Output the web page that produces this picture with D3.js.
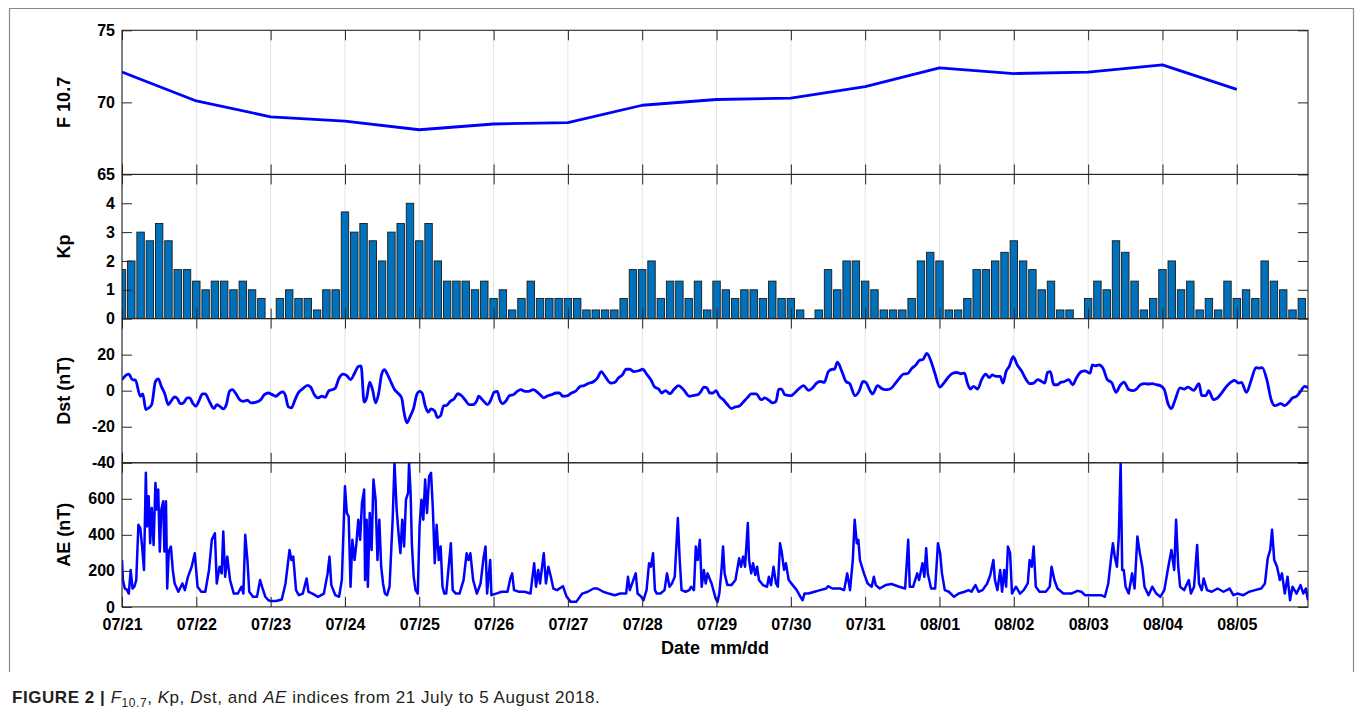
<!DOCTYPE html>
<html>
<head>
<meta charset="utf-8">
<script src="https://cdn.jsdelivr.net/npm/d3@7/dist/d3.min.js"></script>
<style>
  html, body { margin: 0; padding: 0; background: #fff; }
  svg { display: block; }
  text { font-family: "Liberation Sans", Arial, Helvetica, sans-serif; }
</style>
</head>
<body>
<svg id="chart" width="1355" height="716"></svg>
<script>
// ---------------- DATA ----------------
const dayLabels = ["07/21","07/22","07/23","07/24","07/25","07/26","07/27","07/28",
                   "07/29","07/30","07/31","08/01","08/02","08/03","08/04","08/05"];

// daily F10.7 (one value per day, at 00 UT)
const f107Values = [72.1, 70.1, 69.0, 68.7, 68.1, 68.5, 68.6, 69.8,
                    70.2, 70.3, 71.1, 72.4, 72.0, 72.1, 72.6, 70.9];

// 3-hourly Kp (8 per day, starting 07/21 00 UT)
const kpValues = [
  1.7,2,3,2.7,3.3,2.7,1.7,1.7,   1.3,1,1.3,1.3,1,1.3,1,0.7,
  0,0.7,1,0.7,0.7,0.3,1,1,       3.7,3,3.3,2.7,2,3,3.3,4,
  2.7,3.3,2,1.3,1.3,1.3,1,1.3,   0.7,1,0.3,0.7,1.3,0.7,0.7,0.7,
  0.7,0.7,0.3,0.3,0.3,0.3,0.7,1.7, 1.7,2,0.7,1.3,1.3,0.7,1.3,0.3,
  1.3,1,0.7,1,1,0.7,1.3,0.7,     0.7,0.3,0,0.3,1.7,1,2,2,
  1.3,1,0.3,0.3,0.3,0.7,2,2.3,   2,0.3,0.3,0.7,1.7,1.7,2,2.3,
  2.7,2,1.7,1,1.3,0.3,0.3,0,     0.7,1.3,1,2.7,2.3,1.3,0.3,0.7,
  1.7,2,1,1.3,0.3,0.7,0.3,1.3,   0.7,1,0.7,2,1.3,1,0.3,0.7
];

// Dst: hours since 07/21 00 UT and values (nT)
const dstHours = [0,1.5,2.2,3.4,4.3,5.9,6.7,7.7,8.7,9.6,10.8,11.7,12.7,13.9,14.9,15.8,17,17.9,18.8,19.8,
  21.1,21.9,22.8,23.8,24.8,26,26.9,28.1,29.7,30.6,31.5,32.7,33.7,34.7,35.6,36.8,38,39.2,40.5,41.7,
  43.3,44.8,46,47.3,48.5,49.7,51,52,52.8,53.7,54.7,55.9,56.9,58.4,59.9,60.9,62.1,63.3,64.6,65.6,
  66.8,68,68.9,70.1,71.4,72.6,73.8,75.1,76.3,77.2,78.2,79,80,80.9,81.9,82.9,83.8,84.7,85.8,87,
  88,89.3,90.3,91.1,92,93,94.2,95.2,96.1,96.9,97.9,98.9,99.8,101,101.9,102.9,103.9,104.7,106,107.2,
  108.4,109.7,110.9,112.1,113.4,114.6,115.2,116.5,118,118.9,120.2,121.2,122,122.9,123.9,125.1,126.4,127.6,128.8,130.1,
  131.3,132.8,134,135,136.2,137.5,138.7,140.2,141.2,142.4,143.9,145.1,146.4,148,149.2,150.4,152.3,153.5,154.8,156,
  157.9,159.1,160.3,161.6,162.8,164,165.3,167.1,168.1,169.6,170.8,172,173.3,174.3,175.5,177,178.2,179.7,181.3,183.2,
  184.7,186,187,187.9,188.9,189.8,190.8,191.8,192.9,194.2,195.5,196.8,198.1,199.3,200.6,201.9,203.2,204.8,206.4,207.6,
  208.9,210.2,211.2,212.1,213,214,216,217.2,218.5,220.1,221.7,223,224.3,225.5,226.8,228.1,229.4,230.1,231,232.5,
  233.8,235,236.7,238,239.3,240.2,241.5,242.4,244,245.7,247.2,248.5,249.8,251.1,252.3,253.6,255.1,256.4,257.4,258.7,
  259.9,261.3,262.5,264.1,265.4,266.6,268.3,269.6,270.8,272.1,273,274,275,276.3,277.6,278.9,280.1,281,282.3,283.6,
  284.5,285.5,286.5,287.8,289.1,290.6,291.9,293.2,294.4,295.7,297,298,298.9,299.8,300.9,302.1,303.1,304.4,305.7,307,
  308.2,309.8,311,312.6,313.4,314.3,315.5,316.8,318.1,319.7,321,322.3,323.6,325.1,326.4,327.6,328.9,330.2,331.5,332.7,
  334,335.3,336.6,337.8,338.9,340.1,341.7,343,344.2,346.1,347.8,348.7,350,350.9,352.5,353.8,355.1,356.7,358,359.3,
  360.6,361.5,363.1,364.7,366.2,367.2,368.2,369.7,371.1,372.3,374.2,375.5,376.8,378,379.3,380.6,381.9,383];
const dstValues = [6.1,8.8,9.2,6,6,-3.1,-1.8,-10.5,-9.5,-7.7,5.1,6.6,2.4,-2.2,-7.7,-5.9,-3.5,-4.4,-7.2,-6.8,
  -4,-4,-6.8,-8.6,-5.9,-1.8,-1.8,-5.5,-9.9,-7.7,-8.6,-10.1,-7.7,-0.4,0.6,-1.7,-5,-5.9,-5.3,-6.8,
  -6.4,-5,-2.2,-1.3,-2.2,-3.1,-1.3,-0.7,-2.8,-9,-9.5,-5,-1.3,1.1,2.9,2,-2.2,-4,-3.1,-3.7,
  0,0.6,1.5,7,9.2,8.3,6.1,9.7,13.4,13.8,-6.4,-4,4.8,0.6,-6.8,-1.3,8.8,11.6,8.8,4.2,
  0.6,-1.7,-4,-12.3,-17.8,-14.5,-9.5,-2.2,-0.4,-1.3,-8.3,-11.9,-10.1,-11.4,-15,-13.8,-8.3,-8.3,-5.9,-4.6,
  -1.7,-2.8,-5.3,-7.7,-7.7,-5.5,-3.1,-5.3,-7.7,-5.9,-0.9,-0.4,-5,-7.2,-5.9,-2.8,-2.2,-0.4,0.6,-0.4,
  -0.4,0.6,-0.7,-2.2,-4,-2.8,-2.2,-1.3,-1.3,-3.1,-2.8,-1.3,-0.4,2.4,2.8,3.9,5.1,7,10.6,7.9,
  4.2,4.6,7,8.8,11.9,11.9,10.6,11.2,11.9,8.8,6.1,2,0.9,-1.3,0,-1.7,0.6,2.8,0.6,-3.1,
  -2.6,-2.2,-0.4,2,1.5,-1.3,-1.3,0,-3.1,-5,-7.7,-9.9,-9,-8.6,-6.4,-4,-1.8,-1.8,-5,-4,
  -5.3,-6.8,-5.9,0.9,0.9,-2.2,-2.8,-1.3,0.9,2.8,0.2,1.5,4.2,5.1,4.6,10.6,11.9,11.9,15.8,10.6,
  5.1,3.9,-2.8,-0.4,5.1,4.6,0.2,-1.8,2.8,0.9,0.6,1.5,4.2,7,9.2,9.4,12.5,14.3,16.7,17.4,
  20.7,16.1,9.7,2,4.2,7,9.7,10.1,9.4,9.7,4.2,0.9,2.4,0.9,6.1,9.2,7.3,8.8,7.9,7.9,
  4.2,10.6,13.4,18.9,14.3,10.6,6.4,3.9,4.2,6.1,5.1,4.2,10.1,10.6,3.3,3.3,4.6,5.1,6.1,3.3,
  7,10.6,11,9.7,14.3,13.8,14.3,12.5,6.4,4.2,-0.9,2.8,4.8,0.6,0,0.9,3.3,3.9,3.7,3.9,
  3.3,2.8,0.6,-7.2,-9.9,-5,1.5,0.9,2,0.2,3.9,-2.8,-2.8,0,-5,-4,-1.3,2.4,4.6,5.7,
  4.2,4.6,-0.9,6.1,12.8,12.5,12.8,6.1,-5,-8.3,-7.2,-8.3,-6.4,-4,-3.1,-0.4,2.4,1.5];

// AE: hours since 07/21 00 UT and values (nT)
const aeHours = [0,0.3,0.9,1.5,2.2,2.8,3.4,4,4.6,5.3,5.9,6.5,7.1,7.7,8.1,8.6,9.1,9.6,10.2,10.8,
  11.2,11.7,12.2,12.7,13.3,13.7,14.2,14.6,15.1,15.8,16.4,17,18.2,19.5,20.3,21.3,22.5,23.5,24.4,25.6,
  26.9,28.1,29,30,30.6,31.5,32.2,32.7,33.3,34,34.9,36.1,37.4,38.6,39.2,39.8,40.5,41.1,42.3,43.6,
  44.6,45.4,46.3,47.3,47.9,49.7,51.6,52.8,54.1,54.7,55.3,56.2,57.1,58.4,59.6,60.2,61.5,63.3,65.2,66.4,
  67,67.6,68.9,70.1,71,72,72.6,73.2,73.8,74.4,75.1,75.7,76.3,76.9,77.5,78.2,78.5,79,79.4,80,
  80.6,81.2,81.9,82.5,83.1,83.7,84.3,84.9,85.6,86.4,87.4,88,88.7,89.3,89.9,90.5,91.1,91.7,92.4,92.7,
  93.2,93.6,94.2,94.8,95.5,96.1,96.7,97.3,97.9,98.5,99.2,99.8,100.4,101,101.6,102.3,102.9,103.5,104.1,104.7,
  105.3,106.2,106.8,107.8,109,110.3,111.3,111.9,112.5,113.4,114.6,115.8,116.8,117.4,117.9,118.9,119.3,120.8,122.6,124.5,
  125.4,126,126.6,128.2,130,131.9,133.1,133.7,134.4,135,136.2,136.9,137.7,138.5,139.3,140.5,142.4,143.6,144.9,146.7,
  148.6,150.4,152.3,153.5,155.4,157.2,159.1,160.9,162.8,163.4,164,165.3,165.9,166.5,167.7,168.4,169.4,170.2,170.8,171.5,
  172.1,172.7,173.9,175.2,176,176.8,177.6,178.5,179.5,180.1,180.7,182,183.2,183.8,184.7,185.3,185.9,186.6,187.2,187.9,
  188.5,189.1,190.4,191.7,192.3,192.9,193.6,194.1,194.6,195.5,196.8,198.1,199.3,199.9,200.6,201.2,202.1,202.5,203.2,203.8,
  204.5,205.1,205.7,207,208.3,208.9,209.6,210.4,211.2,211.8,212.5,213.1,213.8,214.4,215.3,216.6,217.9,219.1,219.8,220.4,
  221.7,223.6,225.5,227.4,228,229.4,231.9,233.2,234.2,235.1,236,236.6,237.3,237.8,238.3,239.6,240.8,242.1,242.8,243.4,
  244.7,246.6,248.5,251,252.9,253.9,254.4,255.5,256.8,257.4,258.5,259.1,259.7,260.2,261.3,262.6,263.5,264.2,264.8,265.7,
  267,268.7,270.2,272.1,273.4,274.3,275.6,276.6,277.9,279.4,280.4,281.4,281.9,282.7,283.6,284.2,284.9,285.5,286.1,286.8,
  287.4,288.7,290,291.2,292.5,293.1,293.8,294.4,295.1,296.3,298.3,299.6,300.2,301.1,302.1,304,306.6,308.5,309.8,311,
  313.6,316.2,317.4,318.5,319.4,320,320.6,321.3,321.9,322.5,323,323.5,324.1,325.1,326.2,327,327.9,328.7,329.5,330.2,
  331.5,332.7,334,335.3,336.6,337.9,338.9,339.8,340.4,341.1,341.7,343,344.5,345.2,346.2,347.2,347.8,348.7,349.3,350.4,
  351.9,353.8,355.7,357.7,358.9,360.2,362.1,364,365.9,367.9,369.1,370,370.8,371.4,372.1,373,373.9,374.6,375.5,376.4,
  377.2,378,379.3,380.6,381.5,382.3,383];
const aeValues = [260,149,102,97,74,205,102,112,149,456,437,335,205,744,447,614,353,549,344,688,
  540,651,307,540,586,307,586,102,307,335,205,130,84,130,93,167,223,298,112,84,
  84,205,372,409,130,223,186,419,167,279,149,74,74,112,74,400,260,84,56,56,
  149,102,56,37,33,33,41,130,316,260,279,93,65,74,158,84,74,56,74,186,
  279,121,65,56,149,670,521,502,112,372,260,353,484,372,577,651,149,484,112,521,
  316,707,595,260,484,223,130,74,65,112,484,800,540,409,298,484,335,595,633,800,
  633,353,167,93,74,447,595,484,707,521,726,744,540,242,456,260,335,112,74,74,
  186,353,93,74,74,149,298,260,298,149,74,130,279,335,74,260,65,74,84,84,
  158,186,93,84,84,74,242,112,205,130,298,130,223,167,102,93,115,56,28,28,
  74,84,102,102,84,74,65,74,74,167,93,158,186,74,56,37,93,242,223,298,
  93,74,74,93,186,112,130,167,493,260,93,84,93,112,93,335,260,372,112,205,
  130,186,130,47,28,74,205,335,186,121,121,149,270,223,279,223,465,260,186,242,
  177,223,149,121,112,167,121,223,130,112,353,298,205,242,149,121,93,56,37,74,
  74,84,93,102,115,102,102,93,186,93,260,484,353,372,260,186,130,112,167,121,
  102,121,127,112,102,372,112,112,186,149,242,167,326,186,102,102,353,298,186,93,
  84,56,74,84,93,84,121,84,93,130,177,260,149,93,205,84,205,112,335,298,
  74,112,74,93,130,260,223,335,112,84,84,112,223,149,102,74,74,89,84,65,
  65,65,56,130,270,353,279,223,391,800,205,205,112,74,186,102,391,298,223,112,
  65,112,74,56,93,223,316,205,484,223,112,93,149,74,112,344,130,93,158,93,
  84,102,84,102,65,74,65,84,93,102,130,270,316,428,260,223,149,186,74,167,
  37,112,74,121,74,102,37];

// axis ticks
const f107Ticks = [65, 70, 75];
const kpTicks = [0, 1, 2, 3, 4];
const dstTicks = [-40, -20, 0, 20];
const aeTicks = [0, 200, 400, 600];

// ---------------- DRAWING ----------------
const svg = d3.select("#chart");
const HOUR = 3600e3;
const START = Date.UTC(2018, 6, 21);
const toDate = h => new Date(START + h * HOUR);

const left = 122, right = 1308, top0 = 30.3, ph = 144.15;
const x = d3.scaleUtc().domain([toDate(0), toDate(383)]).range([left, right]);
const dayTicks = dayLabels.map((d, i) => toDate(i * 24));

const axisColor = "#262626";
const blue = "#0000ff";

// outer figure frame
svg.append("path")
  .attr("d", "M9.5,672V8.5H1353.5V672")
  .attr("fill", "none").attr("stroke", "#8a8a8a").attr("stroke-width", 1.2);

const panels = [
  { label: "F 10.7",   domain: [65, 75],   ticks: f107Ticks },
  { label: "Kp",       domain: [0, 5],     ticks: kpTicks },
  { label: "Dst (nT)", domain: [-40, 40],  ticks: dstTicks },
  { label: "AE (nT)",  domain: [0, 800],   ticks: aeTicks }
];

panels.forEach((p, idx) => {
  const y0 = top0 + idx * ph, y1 = y0 + ph;
  const y = d3.scaleLinear().domain(p.domain).range([y1, y0]);
  const g = svg.append("g");

  const cid = "clip" + idx;
  svg.append("clipPath").attr("id", cid)
    .append("rect").attr("x", left).attr("y", y0).attr("width", right - left).attr("height", ph);

  // vertical grid
  g.append("g").selectAll("line").data(dayTicks).join("line")
    .attr("x1", d => x(d)).attr("x2", d => x(d)).attr("y1", y0).attr("y2", y1)
    .attr("stroke", "#e3e3e3").attr("stroke-width", 1);

  const dg = g.append("g").attr("clip-path", `url(#${cid})`);

  if (idx === 0) {
    const line = d3.line().x((d, i) => x(toDate(i * 24))).y(d => y(d));
    dg.append("path").datum(f107Values).attr("d", line)
      .attr("fill", "none").attr("stroke", blue).attr("stroke-width", 2.8)
      .attr("stroke-linejoin", "round");
  } else if (idx === 1) {
    const bw = (x(toDate(3)) - x(toDate(0))) * 0.8;
    dg.selectAll("rect").data(kpValues).join("rect")
      .attr("x", (d, i) => x(toDate(i * 3)) - bw / 2)
      .attr("width", bw)
      .attr("y", d => y(d))
      .attr("height", d => y(0) - y(d))
      .attr("fill", "#0072bd").attr("stroke", "#1a1a1a").attr("stroke-width", 0.9);
  } else if (idx === 2) {
    const line = d3.line().x((d, i) => x(toDate(dstHours[i]))).y(d => y(d)).curve(d3.curveMonotoneX);
    dg.append("path").datum(dstValues).attr("d", line)
      .attr("fill", "none").attr("stroke", blue).attr("stroke-width", 2.8)
      .attr("stroke-linejoin", "round");
  } else {
    const line = d3.line().x((d, i) => x(toDate(aeHours[i]))).y(d => y(d));
    dg.append("path").datum(aeValues).attr("d", line)
      .attr("fill", "none").attr("stroke", blue).attr("stroke-width", 2.5)
      .attr("stroke-linejoin", "round");
  }

  const fmt = d => String(d);
  const yl = g.append("g").attr("transform", `translate(${left},0)`)
    .call(d3.axisLeft(y).tickValues(p.ticks).tickSize(-10).tickPadding(7).tickFormat(fmt));
  const yr = g.append("g").attr("transform", `translate(${right},0)`)
    .call(d3.axisRight(y).tickValues(p.ticks).tickSize(-10).tickFormat(""));
  const xt = g.append("g").attr("transform", `translate(0,${y0})`)
    .call(d3.axisTop(x).tickValues(dayTicks).tickSize(-10).tickFormat(""));
  const xb = g.append("g").attr("transform", `translate(0,${y1})`)
    .call(d3.axisBottom(x).tickValues(dayTicks).tickSize(-10).tickPadding(12)
      .tickFormat((d, i) => idx === 3 ? dayLabels[i] : ""));

  [yl, yr, xt, xb].forEach(a => {
    a.select(".domain").remove();
    a.selectAll(".tick line").attr("stroke", axisColor).attr("stroke-width", 1);
    a.selectAll(".tick text").attr("fill", "#000")
      .style("font-family", '"Liberation Sans", Arial, sans-serif')
      .style("font-weight", "bold").style("font-size", "16px");
  });

  // box
  g.append("rect").attr("x", left).attr("y", y0).attr("width", right - left).attr("height", ph)
    .attr("fill", "none").attr("stroke", axisColor).attr("stroke-width", 1.1);

  // y label
  g.append("text")
    .attr("transform", `translate(70,${(y0 + y1) / 2}) rotate(-90)`)
    .attr("text-anchor", "middle")
    .style("font-weight", "bold").style("font-size", "18px").attr("fill", "#000")
    .text(p.label);
});

// x-axis title
svg.append("text").attr("x", (left + right) / 2).attr("y", 654)
  .attr("text-anchor", "middle").style("font-weight", "bold").style("font-size", "18px")
  .attr("fill", "#000").attr("xml:space", "preserve").text("Date  mm/dd");

// caption
const cap = svg.append("text").attr("x", 12).attr("y", 703)
  .style("font-size", "17px").style("letter-spacing", "0.55px").attr("fill", "#231f20");
cap.append("tspan").style("font-weight", "bold").text("FIGURE 2 | ");
cap.append("tspan").style("font-style", "italic").text("F");
cap.append("tspan").attr("dy", 4).style("font-size", "12px").text("10.7");
cap.append("tspan").attr("dy", -4).text(", ");
cap.append("tspan").style("font-style", "italic").text("K");
cap.append("tspan").text("p, ");
cap.append("tspan").style("font-style", "italic").text("D");
cap.append("tspan").text("st, and ");
cap.append("tspan").style("font-style", "italic").text("AE");
cap.append("tspan").text(" indices from 21 July to 5 August 2018.");
</script>
</body>
</html>
